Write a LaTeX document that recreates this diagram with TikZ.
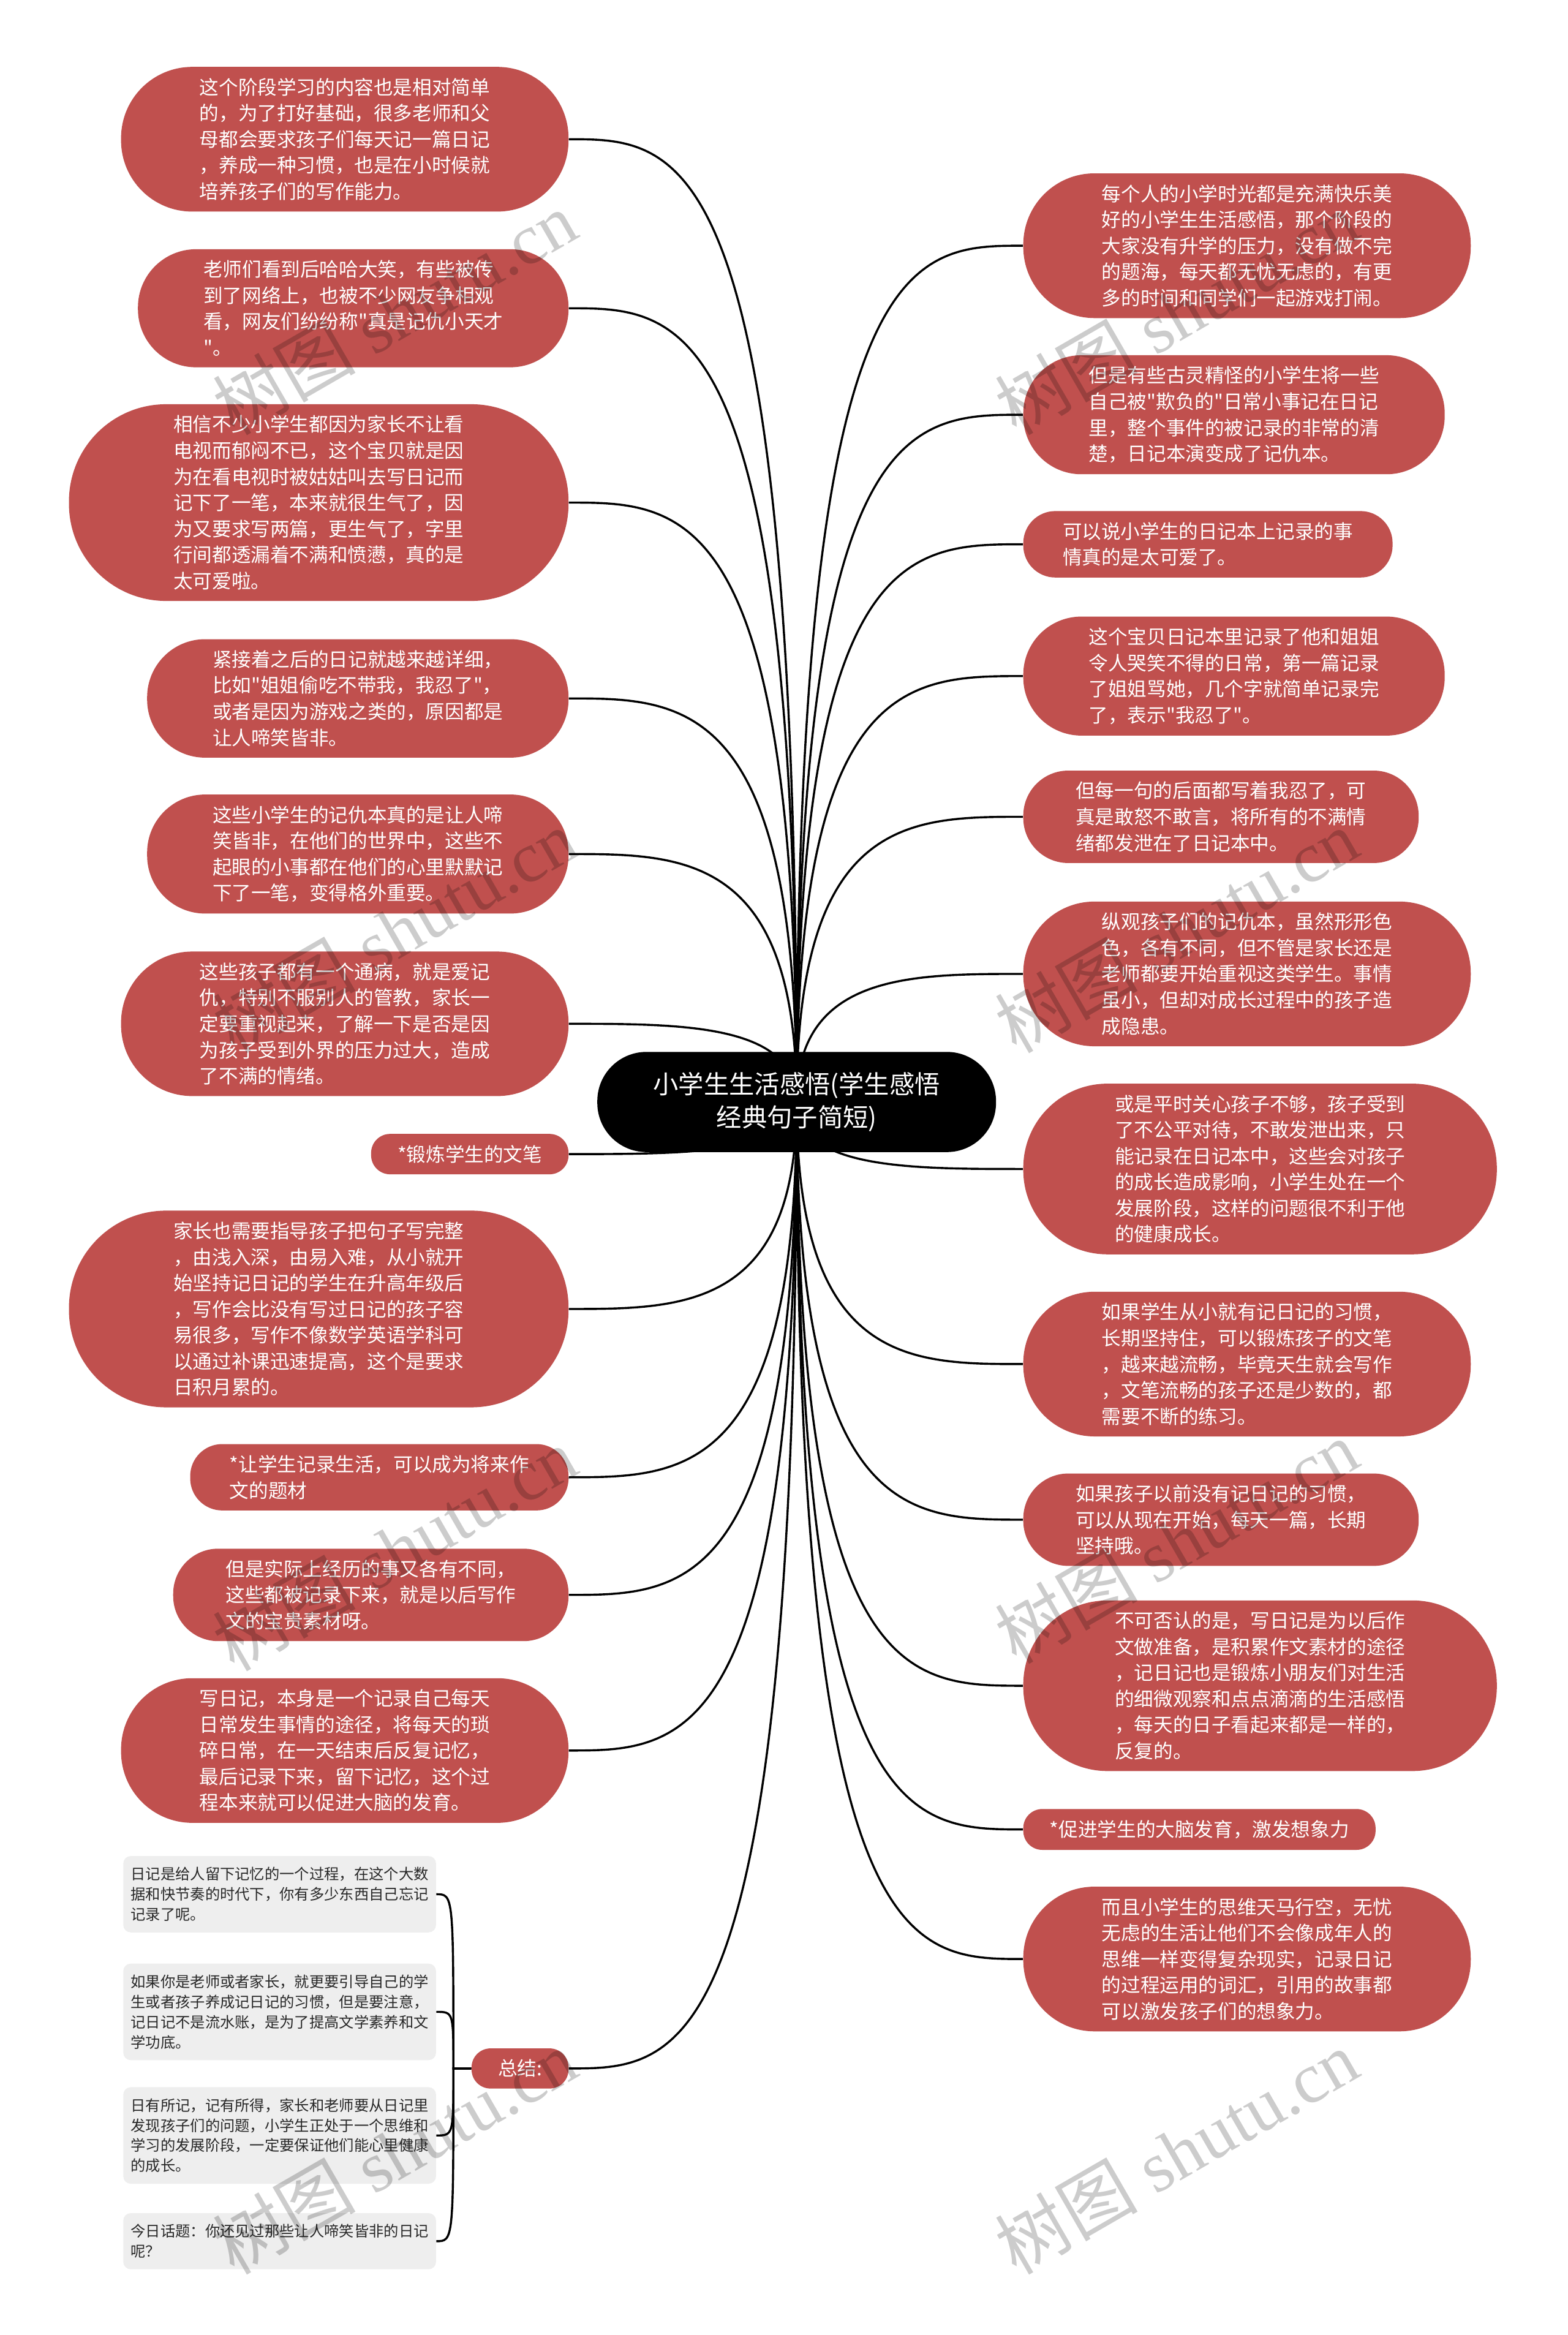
\documentclass[tikz,border=0pt]{standalone}
\usepackage{fontspec}
\newfontfamily\cjk{Noto Sans CJK SC}
\newfontfamily\wmserif{Liberation Serif}
\usetikzlibrary{calc,backgrounds}
\definecolor{nodered}{RGB}{192,80,78}
\definecolor{notegray}{RGB}{238,238,238}
\definecolor{notetext}{RGB}{40,40,40}

\begin{document}
\begin{tikzpicture}[x=1pt,y=-1pt,
  topic/.style={rectangle,fill=black,text=white,align=center,
    font=\cjk\fontsize{17}{22.5}\selectfont,inner xsep=37.5pt,inner ysep=13.5pt,rounded corners=33pt},
  idea/.style={rectangle,fill=nodered,text=white,align=left,
    font=\cjk\fontsize{13}{17.5}\selectfont,inner ysep=7.5pt,
    inner xsep={8.75pt*#1+9pt},rounded corners={8.75pt*#1+4pt}},
  note/.style={rectangle,rounded corners=5pt,fill=notegray,text=notetext,align=left,
    font=\cjk\fontsize{10}{13.5}\selectfont,inner xsep=5pt,inner ysep=7.5pt},
  link/.style={line width=1.4pt},
  wmark/.style={rotate=30,text=black,text opacity=0.2,font=\wmserif\fontsize{48}{48}\selectfont}]
  \useasboundingbox (0,0) rectangle (1053,1568);

  \node[topic] (root) at (535,740) {小学生生活感悟(学生感悟\\经典句子简短)};

  % left branch
  \node[idea=5,anchor=east] (l1) at (382,93.5) {这个阶段学习的内容也是相对简单\\的，为了打好基础，很多老师和父\\母都会要求孩子们每天记一篇日记\\，养成一种习惯，也是在小时候就\\培养孩子们的写作能力。};
  \node[idea=4,anchor=east] (l2) at (382,207) {老师们看到后哈哈大笑，有些被传\\到了网络上，也被不少网友争相观\\看，网友们纷纷称"真是记仇小天才\\"。};
  \node[idea=7,anchor=east] (l3) at (382,337.5) {相信不少小学生都因为家长不让看\\电视而郁闷不已，这个宝贝就是因\\为在看电视时被姑姑叫去写日记而\\记下了一笔，本来就很生气了，因\\为又要求写两篇，更生气了，字里\\行间都透漏着不满和愤懑，真的是\\太可爱啦。};
  \node[idea=4,anchor=east] (l4) at (382,469) {紧接着之后的日记就越来越详细，\\比如"姐姐偷吃不带我，我忍了"，\\或者是因为游戏之类的，原因都是\\让人啼笑皆非。};
  \node[idea=4,anchor=east] (l5) at (382,573.5) {这些小学生的记仇本真的是让人啼\\笑皆非，在他们的世界中，这些不\\起眼的小事都在他们的心里默默记\\下了一笔，变得格外重要。};
  \node[idea=5,anchor=east] (l6) at (382,687.5) {这些孩子都有一个通病，就是爱记\\仇，特别不服别人的管教，家长一\\定要重视起来，了解一下是否是因\\为孩子受到外界的压力过大，造成\\了不满的情绪。};
  \node[idea=1,anchor=east] (l7) at (382,775) {*锻炼学生的文笔};
  \node[idea=7,anchor=east] (l8) at (382,879) {家长也需要指导孩子把句子写完整\\，由浅入深，由易入难，从小就开\\始坚持记日记的学生在升高年级后\\，写作会比没有写过日记的孩子容\\易很多，写作不像数学英语学科可\\以通过补课迅速提高，这个是要求\\日积月累的。};
  \node[idea=2,anchor=east] (l9) at (382,992) {*让学生记录生活，可以成为将来作\\文的题材};
  \node[idea=3,anchor=east] (l10) at (382,1071) {但是实际上经历的事又各有不同，\\这些都被记录下来，就是以后写作\\文的宝贵素材呀。};
  \node[idea=5,anchor=east] (l11) at (382,1175.5) {写日记，本身是一个记录自己每天\\日常发生事情的途径，将每天的琐\\碎日常，在一天结束后反复记忆，\\最后记录下来，留下记忆，这个过\\程本来就可以促进大脑的发育。};
  \node[idea=1,anchor=east] (sum) at (382,1389) {总结:};

  \node[note,anchor=east] (s1) at (293,1272) {日记是给人留下记忆的一个过程，在这个大数\\据和快节奏的时代下，你有多少东西自己忘记\\记录了呢。};
  \node[note,anchor=east] (s2) at (293,1351) {如果你是老师或者家长，就更要引导自己的学\\生或者孩子养成记日记的习惯，但是要注意，\\记日记不是流水账，是为了提高文学素养和文\\学功底。};
  \node[note,anchor=east] (s3) at (293,1434) {日有所记，记有所得，家长和老师要从日记里\\发现孩子们的问题，小学生正处于一个思维和\\学习的发展阶段，一定要保证他们能心里健康\\的成长。};
  \node[note,anchor=east] (s4) at (293,1505) {今日话题：你还见过那些让人啼笑皆非的日记\\呢？};

  % right branch
  \node[idea=5,anchor=west] (r1) at (687,165) {每个人的小学时光都是充满快乐美\\好的小学生生活感悟，那个阶段的\\大家没有升学的压力，没有做不完\\的题海，每天都无忧无虑的，有更\\多的时间和同学们一起游戏打闹。};
  \node[idea=4,anchor=west] (r2) at (687,278.5) {但是有些古灵精怪的小学生将一些\\自己被"欺负的"日常小事记在日记\\里，整个事件的被记录的非常的清\\楚，日记本演变成了记仇本。};
  \node[idea=2,anchor=west] (r3) at (687,365.5) {可以说小学生的日记本上记录的事\\情真的是太可爱了。};
  \node[idea=4,anchor=west] (r4) at (687,454) {这个宝贝日记本里记录了他和姐姐\\令人哭笑不得的日常，第一篇记录\\了姐姐骂她，几个字就简单记录完\\了，表示"我忍了"。};
  \node[idea=3,anchor=west] (r5) at (687,548.5) {但每一句的后面都写着我忍了，可\\真是敢怒不敢言，将所有的不满情\\绪都发泄在了日记本中。};
  \node[idea=5,anchor=west] (r6) at (687,654) {纵观孩子们的记仇本，虽然形形色\\色，各有不同，但不管是家长还是\\老师都要开始重视这类学生。事情\\虽小，但却对成长过程中的孩子造\\成隐患。};
  \node[idea=6,anchor=west] (r7) at (687,785) {或是平时关心孩子不够，孩子受到\\了不公平对待，不敢发泄出来，只\\能记录在日记本中，这些会对孩子\\的成长造成影响，小学生处在一个\\发展阶段，这样的问题很不利于他\\的健康成长。};
  \node[idea=5,anchor=west] (r8) at (687,916) {如果学生从小就有记日记的习惯，\\长期坚持住，可以锻炼孩子的文笔\\，越来越流畅，毕竟天生就会写作\\，文笔流畅的孩子还是少数的，都\\需要不断的练习。};
  \node[idea=3,anchor=west] (r9) at (687,1020.5) {如果孩子以前没有记日记的习惯，\\可以从现在开始，每天一篇，长期\\坚持哦。};
  \node[idea=6,anchor=west] (r10) at (687,1132) {不可否认的是，写日记是为以后作\\文做准备，是积累作文素材的途径\\，记日记也是锻炼小朋友们对生活\\的细微观察和点点滴滴的生活感悟\\，每天的日子看起来都是一样的，\\反复的。};
  \node[idea=1,anchor=west] (r11) at (687,1228.5) {*促进学生的大脑发育，激发想象力};
  \node[idea=5,anchor=west] (r12) at (687,1315.5) {而且小学生的思维天马行空，无忧\\无虑的生活让他们不会像成年人的\\思维一样变得复杂现实，记录日记\\的过程运用的词汇，引用的故事都\\可以激发孩子们的想象力。};

  \coordinate (fork) at ([xshift=-12pt]sum.west);

  \begin{scope}[on background layer]
    \fill[white] (0,0) rectangle (1053,1568);
    \foreach \n in {l1,l2,l3,l4,l5,l6,l7,l8,l9,l10,l11,sum}
      \draw[link] (root.center) .. controls (root.center |- \n.east) and ($(root.center |- \n.east)!0.5!(\n.east)$) .. (\n.east);
    \foreach \n in {r1,r2,r3,r4,r5,r6,r7,r8,r9,r10,r11,r12}
      \draw[link] (root.center) .. controls (root.center |- \n.west) and ($(root.center |- \n.west)!0.5!(\n.west)$) .. (\n.west);
    \foreach \n in {s1,s2,s3,s4}
      \draw[link] (sum.west) -- (fork) .. controls (fork |- \n.east) .. (\n.east);
  \end{scope}

  \foreach \p [count=\i] in {(265,210),(790,210),(265,625),(790,625),(265,1040),(790,1035),(265,1445),(790,1445)}
    \node[wmark] (wm\i) at \p {{\cjk 树图} shutu.cn};
\end{tikzpicture}
\end{document}
